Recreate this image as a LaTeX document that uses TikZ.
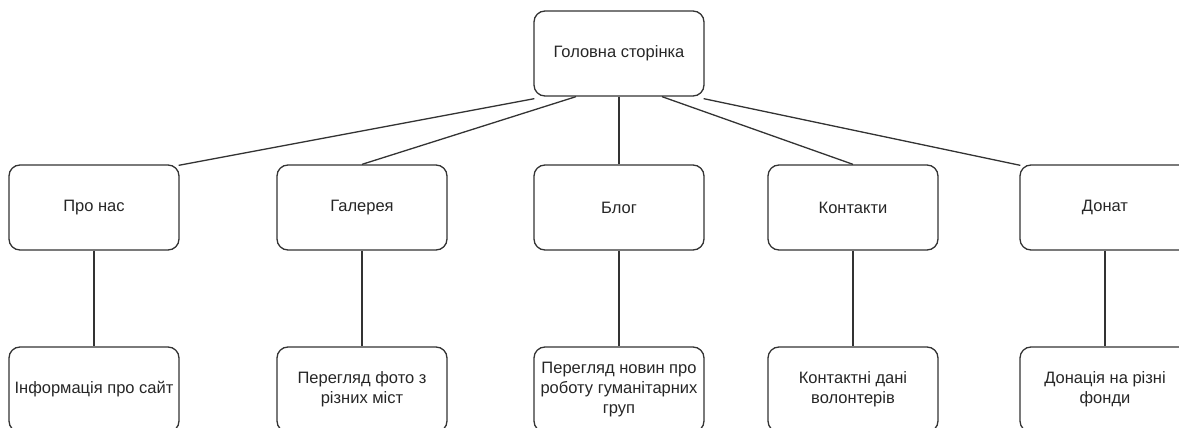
\documentclass[tikz,border=0pt]{standalone}
\usepackage{fontspec}
\setmainfont{Liberation Sans}
\begin{document}
\begin{tikzpicture}[x=1pt,y=-1pt,
  box/.style={draw=black!80, line width=1.3pt, rounded corners=11pt, minimum width=170pt, minimum height=85pt,
    inner sep=0pt, align=center, font=\fontsize{16.5}{20}\selectfont, text=black!85},
  link/.style={draw=black!80, line width=1.3pt}]
\useasboundingbox (0,0) rectangle (1179,428);
\clip (0,0) rectangle (1179,428);
\node[box] (home) at (619,53.5) {Головна сторінка};
\node[box] (about) at (94,207.5) {Про нас};
\node[box] (gallery) at (362,207.5) {Галерея};
\node[box] (blog) at (619,207.5) {Блог};
\node[box] (contacts) at (853,207.5) {Контакти};
\node[box] (donate) at (1105,207.5) {Донат};
\node[box] (info) at (94,389.5) {Інформація про сайт};
\node[box] (photo) at (362,389.5) {Перегляд фото з\\різних міст};
\node[box] (news) at (619,389.5) {Перегляд новин про\\роботу гуманітарних\\груп};
\node[box] (cdata) at (853,389.5) {Контактні дані\\волонтерів};
\node[box] (don) at (1105,389.5) {Донація на різні\\фонди};
\draw[link] ([xshift=1pt,yshift=-2pt]home.south west) -- ([xshift=-1pt,yshift=-1pt]about.north east);
\draw[link] ([xshift=-43pt]home.south) -- (gallery.north);
\draw[link] (home.south) -- (blog.north);
\draw[link] ([xshift=43pt]home.south) -- (contacts.north);
\draw[link] ([xshift=-1pt,yshift=-2pt]home.south east) -- ([xshift=1pt,yshift=-1pt]donate.north west);
\draw[link] (about) -- (info);
\draw[link] (gallery) -- (photo);
\draw[link] (blog) -- (news);
\draw[link] (contacts) -- (cdata);
\draw[link] (donate) -- (don);
\end{tikzpicture}
\end{document}
